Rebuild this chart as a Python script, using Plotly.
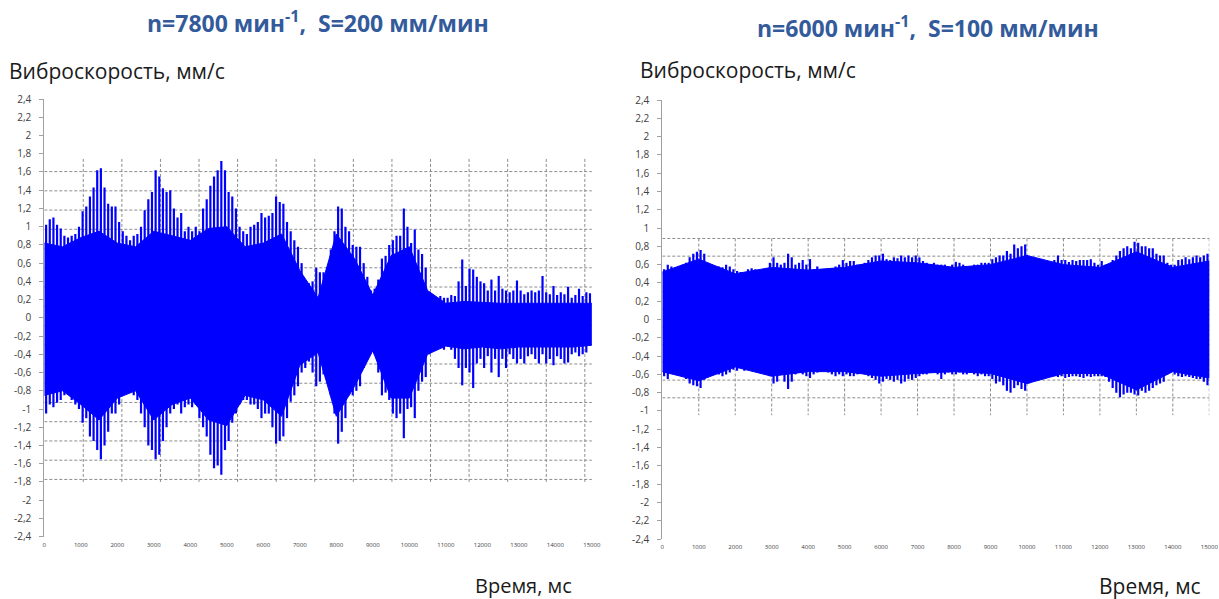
import plotly.graph_objects as go

# ---------------- data ----------------
time_ms = list(range(50, 15000, 100))  # 100 ms bins, centre times

# n=7800, S=200 : peak (spike) values of the vibration signal per 100 ms bin, mm/s
left_upper = [
    1.02, 1.08, 1.10, 1.02, 0.98, 0.90, 0.88, 0.90, 0.92, 1.00,
    1.17, 1.22, 1.33, 1.43, 1.62, 1.64, 1.43, 1.25, 1.22, 1.22,
    1.05, 0.95, 0.90, 0.85, 0.90, 0.92, 1.00, 1.18, 1.30, 1.38,
    1.62, 1.55, 1.42, 1.38, 1.40, 1.20, 1.10, 1.15, 0.95, 1.00,
    0.95, 1.00, 0.95, 1.20, 1.30, 1.45, 1.55, 1.62, 1.72, 1.62,
    1.38, 1.33, 1.20, 1.00, 0.95, 0.92, 1.00, 1.02, 1.05, 1.15,
    1.10, 1.12, 1.15, 1.33, 1.27, 1.25, 1.05, 0.95, 0.85, 0.78,
    0.60, 0.35, 0.38, 0.40, 0.55,
    0.50, 0.50, 0.55, 0.75, 0.95, 1.22, 1.20, 1.00, 0.95, 0.80,
    0.78, 0.78, 0.60, 0.45, 0.30, 0.32, 0.42, 0.65, 0.68, 0.80,
    0.85, 0.90, 0.90, 1.20, 1.00, 0.82, 0.97, 0.75, 0.70, 0.55,
    0.28, 0.22, 0.22, 0.24, 0.22, 0.22, 0.25, 0.24, 0.40, 0.64,
    0.35, 0.54, 0.53, 0.45, 0.40, 0.38, 0.30, 0.42, 0.30, 0.46,
    0.32, 0.30, 0.28, 0.30, 0.41, 0.30, 0.26, 0.28, 0.30, 0.28,
    0.30, 0.46, 0.28, 0.26, 0.35, 0.25, 0.28, 0.26, 0.34, 0.22,
    0.25, 0.32, 0.24, 0.28, 0.27,
]
left_lower = [
    -1.05, -0.95, -0.98, -0.93, -0.90, -0.85, -0.82, -0.90, -0.95, -1.00,
    -1.15, -1.10, -1.30, -1.35, -1.45, -1.55, -1.40, -1.25, -1.05, -1.05,
    -0.95, -0.85, -0.82, -0.80, -0.85, -0.90, -1.05, -1.20, -1.40, -1.45,
    -1.55, -1.50, -1.35, -1.20, -1.05, -1.00, -0.95, -1.05, -0.98, -0.95,
    -0.98, -0.95, -1.10, -1.20, -1.30, -1.50, -1.65, -1.62, -1.72, -1.45,
    -1.35, -1.15, -1.05, -0.95, -0.90, -0.90, -0.95, -0.95, -1.00, -1.10,
    -1.05, -1.05, -1.20, -1.38, -1.35, -1.30, -1.10, -0.92, -0.85, -0.75,
    -0.60, -0.55, -0.48, -0.60, -0.75,
    -0.70, -0.62, -0.60, -0.85, -1.05, -1.38, -1.25, -1.10, -0.85, -0.85,
    -0.80, -0.75, -0.55, -0.40, -0.38, -0.40, -0.60, -0.85, -0.82, -0.90,
    -1.05, -1.10, -1.05, -1.32, -1.00, -0.98, -1.10, -0.80, -0.70, -0.65,
    -0.40, -0.35, -0.35, -0.33, -0.35, -0.30, -0.35, -0.45, -0.55, -0.74,
    -0.55, -0.60, -0.77, -0.50, -0.45, -0.55, -0.42, -0.60, -0.45, -0.65,
    -0.45, -0.55, -0.40, -0.45, -0.50, -0.45, -0.50, -0.42, -0.40, -0.45,
    -0.50, -0.40, -0.50, -0.45, -0.52, -0.42, -0.45, -0.50, -0.49, -0.40,
    -0.38, -0.42, -0.40, -0.38, -0.30,
]
# dense (solid) core of the same signal, every 500 ms
left_core_t = list(range(0, 15001, 500))
left_core_upper = [0.82, 0.78, 0.88, 0.95, 0.82, 0.78, 0.95, 0.90, 0.85, 0.98,
                   1.00, 0.78, 0.82, 0.92, 0.52, 0.22, 0.92, 0.65, 0.25, 0.68,
                   0.78, 0.30, 0.16, 0.18, 0.17, 0.16, 0.16, 0.16, 0.16, 0.16, 0.16]
left_core_lower = [-0.85, -0.80, -0.95, -1.12, -0.88, -0.80, -1.12, -0.95, -0.88, -1.12,
                   -1.18, -0.85, -0.90, -1.08, -0.52, -0.38, -1.08, -0.75, -0.36, -0.88,
                   -0.88, -0.40, -0.31, -0.34, -0.32, -0.34, -0.32, -0.32, -0.32, -0.32, -0.30]

# n=6000, S=100
right_upper = [
    0.55, 0.60, 0.58, 0.57, 0.58, 0.60, 0.62, 0.68, 0.72, 0.74,
    0.76, 0.72, 0.62, 0.60, 0.58, 0.58, 0.57, 0.60, 0.58, 0.55,
    0.53, 0.52, 0.50, 0.55, 0.56, 0.55, 0.52, 0.50, 0.55, 0.62,
    0.68, 0.62, 0.60, 0.62, 0.72, 0.68, 0.60, 0.62, 0.65, 0.60,
    0.66, 0.55, 0.58, 0.55, 0.52, 0.55, 0.56, 0.58, 0.60, 0.65,
    0.62, 0.64, 0.64, 0.60, 0.60, 0.62, 0.65, 0.68, 0.70, 0.70,
    0.72, 0.66, 0.65, 0.68, 0.67, 0.70, 0.68, 0.70, 0.68, 0.70,
    0.68, 0.64, 0.62, 0.60, 0.62, 0.60, 0.60, 0.60, 0.58, 0.60,
    0.63, 0.62, 0.60, 0.57, 0.58, 0.60, 0.60, 0.62, 0.62, 0.62,
    0.66, 0.68, 0.70, 0.70, 0.75, 0.72, 0.82, 0.78, 0.80, 0.82,
    0.68, 0.62, 0.60, 0.58, 0.58, 0.60, 0.62, 0.65, 0.70, 0.65,
    0.65, 0.63, 0.65, 0.64, 0.65, 0.65, 0.65, 0.66, 0.62, 0.60,
    0.64, 0.60, 0.58, 0.65, 0.70, 0.75, 0.78, 0.80, 0.78, 0.85,
    0.84, 0.80, 0.80, 0.78, 0.78, 0.72, 0.70, 0.70, 0.62, 0.60,
    0.60, 0.65, 0.66, 0.68, 0.66, 0.68, 0.70, 0.68, 0.70, 0.72,
]
right_lower = [
    -0.62, -0.65, -0.58, -0.60, -0.60, -0.62, -0.65, -0.70, -0.72, -0.73,
    -0.75, -0.66, -0.62, -0.60, -0.58, -0.60, -0.62, -0.60, -0.58, -0.55,
    -0.56, -0.52, -0.56, -0.55, -0.53, -0.52, -0.50, -0.52, -0.55, -0.62,
    -0.70, -0.68, -0.60, -0.68, -0.76, -0.68, -0.60, -0.58, -0.60, -0.62,
    -0.64, -0.60, -0.58, -0.55, -0.55, -0.58, -0.60, -0.62, -0.60, -0.62,
    -0.60, -0.62, -0.62, -0.60, -0.58, -0.60, -0.62, -0.64, -0.66, -0.70,
    -0.68, -0.65, -0.66, -0.68, -0.66, -0.70, -0.68, -0.65, -0.66, -0.64,
    -0.62, -0.60, -0.60, -0.56, -0.55, -0.60, -0.65, -0.60, -0.58, -0.60,
    -0.60, -0.58, -0.60, -0.60, -0.58, -0.60, -0.62, -0.60, -0.62, -0.62,
    -0.65, -0.70, -0.68, -0.72, -0.78, -0.80, -0.75, -0.72, -0.76, -0.78,
    -0.70, -0.62, -0.58, -0.55, -0.56, -0.58, -0.60, -0.62, -0.63, -0.62,
    -0.64, -0.63, -0.62, -0.62, -0.63, -0.64, -0.62, -0.63, -0.62, -0.62,
    -0.62, -0.63, -0.68, -0.75, -0.80, -0.85, -0.82, -0.80, -0.80, -0.82,
    -0.83, -0.78, -0.80, -0.78, -0.75, -0.72, -0.70, -0.68, -0.60, -0.58,
    -0.60, -0.62, -0.63, -0.62, -0.63, -0.64, -0.65, -0.65, -0.68, -0.72,
]
right_core_t = list(range(0, 15001, 1000))
right_core_upper = [0.52, 0.66, 0.50, 0.57, 0.54, 0.57, 0.64, 0.62, 0.57, 0.60,
                    0.70, 0.60, 0.57, 0.74, 0.57, 0.64]
right_core_lower = [-0.57, -0.67, -0.52, -0.62, -0.57, -0.57, -0.62, -0.59, -0.57, -0.59,
                    -0.70, -0.59, -0.59, -0.77, -0.57, -0.64]

x_tick_vals = list(range(0, 15001, 1000))
x_tick_labels = [str(v) for v in x_tick_vals]
y_tick_vals = [2.4, 2.2, 2.0, 1.8, 1.6, 1.4, 1.2, 1.0, 0.8, 0.6, 0.4, 0.2, 0.0,
               -0.2, -0.4, -0.6, -0.8, -1.0, -1.2, -1.4, -1.6, -1.8, -2.0, -2.2, -2.4]
y_tick_labels = ["2,4", "2,2", "2", "1,8", "1,6", "1,4", "1,2", "1", "0,8", "0,6", "0,4", "0,2", "0",
                 "-0,2", "-0,4", "-0,6", "-0,8", "-1", "-1,2", "-1,4", "-1,6", "-1,8", "-2", "-2,2", "-2,4"]

titles = ["n=7800 мин<sup>-1</sup>,\u00a0\u00a0S=200 мм/мин",
          "n=6000 мин<sup>-1</sup>,\u00a0\u00a0S=100 мм/мин"]
y_label = "Виброскорость, мм/с"
x_label = "Время, мс"

# ---------------- figure ----------------
W, H = 1219, 599
BLUE = "#0000FF"
AXIS = "#a0a0a0"
GRID = "#8c8c8c"
TXT = "#404040"
FONT = "Open Sans"

fig = go.Figure()


def signal(upper, lower, core_t, core_up, core_lo, xa, ya):
    # dense core
    fig.add_trace(go.Scatter(x=core_t + core_t[::-1], y=core_up + core_lo[::-1],
                             xaxis=xa, yaxis=ya, mode="lines", fill="toself",
                             fillcolor=BLUE, line=dict(color=BLUE, width=1),
                             hoverinfo="skip", showlegend=False))
    # individual peaks
    fig.add_trace(go.Bar(x=time_ms, base=lower,
                         y=[u - l for u, l in zip(upper, lower)],
                         width=60, xaxis=xa, yaxis=ya,
                         marker=dict(color=BLUE, line=dict(width=0)),
                         hoverinfo="skip", showlegend=False))


signal(left_upper, left_lower, left_core_t, left_core_upper, left_core_lower, "x", "y")
signal(right_upper, right_lower, right_core_t, right_core_upper, right_core_lower, "x2", "y2")

px = lambda v: v / W
py = lambda v: 1 - v / H

domains = {
    "left": dict(x=[px(44.3), px(591.8)], y=[py(536.7), py(99)]),
    "right": dict(x=[px(662.3), px(1209.3)], y=[py(539), py(100)]),
}

xcommon = dict(range=[0, 15000], showgrid=False, zeroline=False, showline=False,
               tickmode="array", tickvals=x_tick_vals, ticktext=x_tick_labels,
               ticks="", tickfont=dict(family=FONT, size=6, color=TXT),
               ticklabelstandoff=3, fixedrange=True, automargin=False)
ycommon = dict(range=[-2.4, 2.4], showgrid=False, zeroline=False, showline=True,
               linecolor=AXIS, linewidth=1, ticks="outside", ticklen=4,
               tickcolor=AXIS, tickmode="array", tickvals=y_tick_vals,
               ticktext=y_tick_labels, tickfont=dict(family=FONT, size=10, color=TXT),
               ticklabelstandoff=6, fixedrange=True, automargin=False)
topcommon = dict(range=[0, 15000], showgrid=False, zeroline=False, showline=True,
                 linecolor=AXIS, linewidth=1.5, ticks="outside", ticklen=4,
                 tickcolor=AXIS, tickmode="array", tickvals=x_tick_vals,
                 showticklabels=False, side="top", fixedrange=True, automargin=False)

fig.update_layout(
    xaxis=dict(domain=domains["left"]["x"], anchor="y", **xcommon),
    yaxis=dict(domain=domains["left"]["y"], anchor="x", **ycommon),
    xaxis2=dict(domain=domains["right"]["x"], anchor="y2", **xcommon),
    yaxis2=dict(domain=domains["right"]["y"], anchor="x2", **ycommon),
    xaxis3=dict(overlaying="x", anchor="y", matches="x", **topcommon),
    xaxis4=dict(overlaying="x2", anchor="y2", matches="x2", **topcommon),
    barmode="overlay",
)

# dashed grid (overlay grid as drawn in the original picture)
shapes = []
def hline(y, x0, x1, xr, yr):
    shapes.append(dict(type="line", xref=xr, yref=yr, x0=x0, x1=x1, y0=y, y1=y,
                       layer="below", line=dict(color=GRID, width=1, dash="3px,2px")))
def vline(x, y0, y1, xr, yr):
    shapes.append(dict(type="line", xref=xr, yref=yr, x0=x, x1=x, y0=y0, y1=y1,
                       layer="below", line=dict(color=GRID, width=1, dash="3px,2px")))

for k in range(17):
    hline(1.604 - k * 0.211, 0, 15050, "x", "y")
for k in range(14):
    vline(1068 + k * 1057, 1.743, -1.82, "x", "y")
for k in range(10):
    hline(0.886 - k * 0.1936, 0, 15050, "x2", "y2")
for k in range(1, 16):
    vline(k * 1000, 0.886, -1.046, "x2", "y2")

annotations = [
    dict(text=titles[0], x=px(318), y=py(22), xanchor="center", yanchor="middle",
         font=dict(family=FONT, size=23, color="#335B9C", weight="bold")),
    dict(text=titles[1], x=px(928), y=py(27), xanchor="center", yanchor="middle",
         font=dict(family=FONT, size=23, color="#335B9C", weight="bold")),
    dict(text=y_label, x=px(7), y=py(71), xanchor="left", yanchor="middle",
         font=dict(family=FONT, size=21, color="#1a1a1a")),
    dict(text=y_label, x=px(638), y=py(70), xanchor="left", yanchor="middle",
         font=dict(family=FONT, size=21, color="#1a1a1a")),
    dict(text=x_label, x=px(473), y=py(585), xanchor="left", yanchor="middle",
         font=dict(family=FONT, size=20, color="#1a1a1a")),
    dict(text=x_label, x=px(1097), y=py(586), xanchor="left", yanchor="middle",
         font=dict(family=FONT, size=21, color="#1a1a1a")),
]
for a in annotations:
    a.update(xref="paper", yref="paper", showarrow=False)

fig.update_layout(width=W, height=H, margin=dict(l=0, r=0, t=0, b=0, autoexpand=False),
                  paper_bgcolor="white", plot_bgcolor="white",
                  shapes=shapes, annotations=annotations, showlegend=False,
                  font=dict(family=FONT))

fig.write_html("out.html", config={"displayModeBar": False})
